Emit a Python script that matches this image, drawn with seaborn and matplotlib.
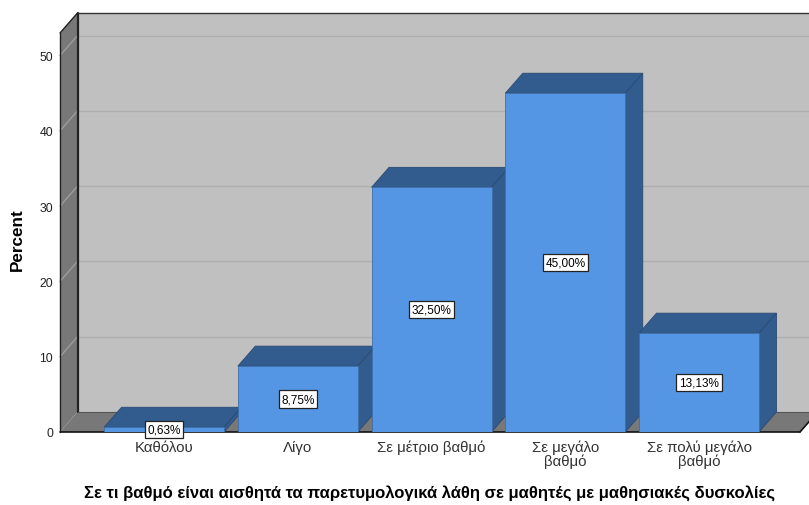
import matplotlib
matplotlib.use("Agg")
import matplotlib.pyplot as plt
from matplotlib.patches import Polygon
from matplotlib.lines import Line2D
from matplotlib.transforms import IdentityTransform
import numpy as np
import seaborn as sns

categories = ["Καθόλου", "Λίγο", "Σε μέτριο βαθμό", "Σε μεγάλο\nβαθμό", "Σε πολύ μεγάλο\nβαθμό"]
percent = [0.63, 8.75, 32.50, 45.00, 13.13]
y_ticks = [0, 10, 20, 30, 40, 50]
x_title = "Σε τι βαθμό είναι αισθητά τα παρετυμολογικά λάθη σε μαθητές με μαθησιακές δυσκολίες"
y_title = "Percent"

FRONT = "#5596E4"
SHADE = "#335C8E"
EDGE = "#2A4A72"
BACK_WALL = "#C0C0C0"
SIDE_WALL = "#787878"
GRID = "#AEAEAE"
SIDE_GRID = "#9C9C9C"
DEPTH = np.array([17.5, 20.0])  # oblique depth offset in pixels

sns.set_theme(style="white")
plt.rcParams["font.family"] = ["Liberation Sans", "DejaVu Sans"]

W, H = 809, 506
fig = plt.figure(figsize=(W / 100, H / 100), dpi=100)
ax = fig.add_axes([60 / W, (H - 433) / H, (800 - 60) / W, (433 - 34) / H])
ax.patch.set_visible(False)

sns.barplot(x=categories, y=percent, color=FRONT, saturation=1, width=0.897,
            ax=ax, edgecolor="#3F6FA8", linewidth=0.6)

ax.set_xlim(-0.778, 4.755)
ax.set_ylim(0, 53)
for s in ax.spines.values():
    s.set_visible(False)

fig.canvas.draw()
T = ax.transData


def P(x, y, d=0.0):
    p = T.transform((x, y))
    return p + d * DEPTH


def poly(pts, color, z, ec="none", lw=0.0):
    ax.add_patch(Polygon(pts, closed=True, facecolor=color, edgecolor=ec, linewidth=lw,
                         transform=IdentityTransform(), clip_on=False, zorder=z))


def line(p, q, color, lw, z):
    ax.add_line(Line2D([p[0], q[0]], [p[1], q[1]], color=color, linewidth=lw,
                       transform=IdentityTransform(), clip_on=False, zorder=z))


x0, x1 = ax.get_xlim()
ytop = ax.get_ylim()[1]
xfar = x1 + 1.0

# back wall, floor and left wall
poly([P(x0, 0, 1), P(xfar, 0, 1), P(xfar, ytop, 1), P(x0, ytop, 1)], BACK_WALL, 0.1)
for v in y_ticks[1:]:
    line(P(x0, v, 1), P(xfar, v, 1), GRID, 1.0, 0.2)
    line(P(x0, v, 0), P(x0, v, 1), SIDE_GRID, 1.0, 0.45)
poly([P(x0, 0, 0), P(x1, 0, 0), P(x1, 0, 1), P(x0, 0, 1)], SIDE_WALL, 0.3)
poly([P(x0, 0, 0), P(x0, 0, 1), P(x0, ytop, 1), P(x0, ytop, 0)], SIDE_WALL, 0.4)

# frame edges
line(P(x0, 0, 0), P(x0, ytop, 0), "#222222", 1.0, 0.5)
line(P(x0, ytop, 0), P(x0, ytop, 1), "#222222", 1.0, 0.5)
line(P(x0, 0, 1), P(x0, ytop, 1), "#222222", 1.6, 0.5)
line(P(x0, ytop, 1), P(xfar, ytop, 1), "#333333", 1.0, 0.5)
line(P(x0, 0, 1), P(xfar, 0, 1), "#555555", 0.8, 0.5)
line(P(x0, 0, 0), P(x1, 0, 0), "#111111", 1.2, 0.5)
line(P(x1, 0, 0), P(x1, 0, 1), "#111111", 1.2, 0.5)

# oblique top and side faces of each bar
for k, bar in enumerate(ax.patches):
    if not hasattr(bar, "get_x"):
        continue
    bx, bw, bh = bar.get_x(), bar.get_width(), bar.get_height()
    zb = 1.0 + k * 0.1
    bar.set_zorder(zb + 0.05)
    poly([P(bx, bh, 0), P(bx + bw, bh, 0), P(bx + bw, bh, 1), P(bx, bh, 1)],
         SHADE, zb, ec=EDGE, lw=0.6)
    poly([P(bx + bw, 0, 0), P(bx + bw, 0, 1), P(bx + bw, bh, 1), P(bx + bw, bh, 0)],
         SHADE, zb, ec=EDGE, lw=0.6)

# boxed value labels at mid-height of each bar
for k, v in enumerate(percent):
    ax.text(k, v / 2, f"{v:.2f}%".replace(".", ","), ha="center", va="center",
            fontsize=8.5, color="black", zorder=5,
            bbox=dict(boxstyle="square,pad=0.22", facecolor="white", edgecolor="#222222",
                      linewidth=0.9))

ax.set_yticks(y_ticks)
ax.set_yticklabels([str(t) for t in y_ticks])
ax.tick_params(axis="y", length=0, pad=5, labelsize=8.8, labelcolor="#222222")
ax.tick_params(axis="x", length=0, pad=5.5, labelsize=10.8, labelcolor="#333333")
for lab in ax.get_xticklabels():
    lab.set_linespacing(0.92)

ax.set_ylabel(y_title, fontsize=12.3, fontweight="bold", color="black")
ax.yaxis.set_label_coords(-0.047, 0.484)
ax.set_xlabel(x_title, fontsize=12, fontweight="bold", color="black")
ax.xaxis.set_label_coords(0.5, -0.13)

fig.savefig("out.png", dpi=100)
